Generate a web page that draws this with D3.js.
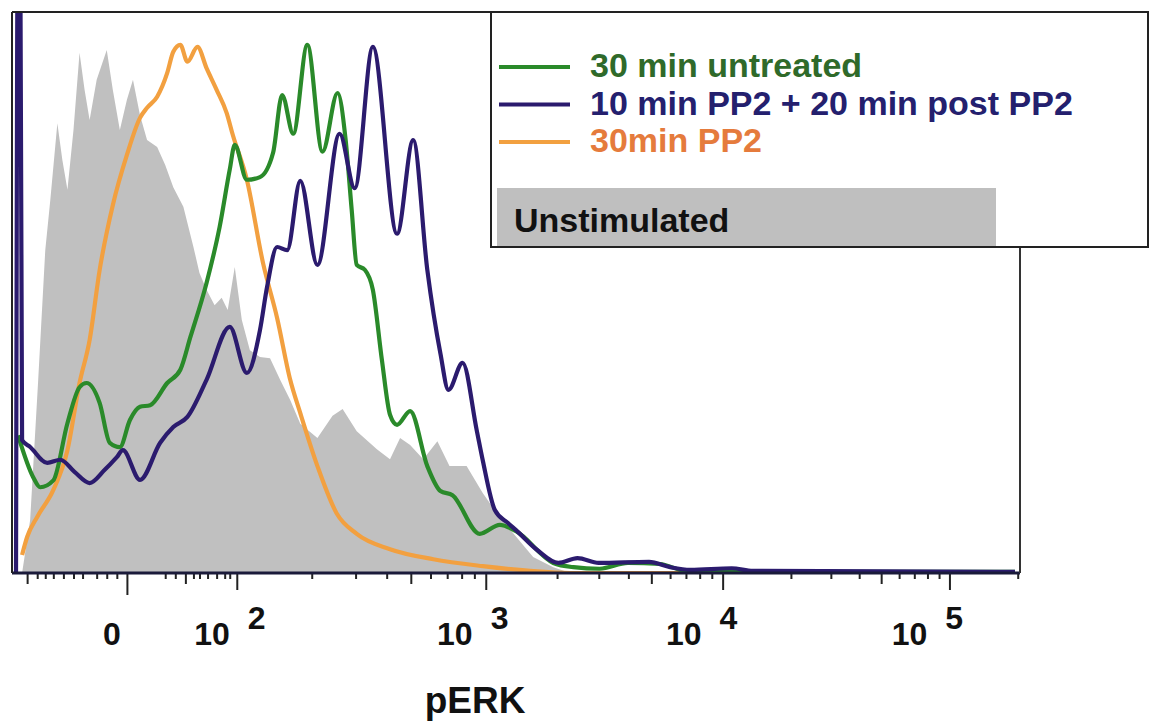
<!DOCTYPE html>
<html><head><meta charset="utf-8">
<script src="https://cdn.jsdelivr.net/npm/d3@7"></script>
<style>
body{margin:0;background:#fff}
svg{display:block}
text{font-family:"Liberation Sans",Arial,Helvetica,sans-serif;font-weight:bold}
</style>
</head><body>
<svg id="chart" width="1154" height="721"></svg>
<script>
// x in display channels (0-1000, biexponential display), y in % of max
const unstimulated = [[10,0],[18,10.0],[26,36.5],[33,61.0],[38,70.5],[45,85.0],[50,78.0],[55,72.4],[61,83.7],[67,98.3],[72,91.3],[77,85.6],[84,93.2],[94,98.8],[100,91.3],[107,83.7],[114,89.4],[120,93.2],[127,86.5],[134,81.8],[144,80.5],[152,77.1],[160,72.9],[170,69.2],[180,61.6],[186,56.7],[193,53.5],[201,50.6],[208,52.0],[214,49.7],[221,57.8],[228,47.8],[236,42.1],[246,40.8],[256,40.6],[266,36.5],[276,32.7],[286,28.2],[303,25.5],[318,29.7],[328,31.0],[342,26.8],[362,23.4],[375,21.5],[385,25.5],[395,24.2],[408,21.5],[422,24.9],[434,20.2],[451,20.2],[467,15.1],[481,11.3],[492,8.7],[517,3.0],[537,1.1],[554,0],[1000,0]];

const pp2_30min = [[10,3.4],[15,6.8],[25,10.6],[41,15.7],[55,23.2],[67,35.9],[77,44.0],[87,57.3],[100,69.5],[114,79.0],[127,86.0],[134,87.9],[144,90.0],[154,94.5],[160,98.5],[167,99.8],[174,96.6],[184,99.4],[193,95.4],[203,91.3],[213,86.9],[219,82.8],[233,74.3],[249,58.6],[263,48.2],[276,36.5],[286,30.2],[303,20.2],[322,11.3],[342,7.4],[375,4.5],[418,2.6],[467,1.3],[514,0.4],[554,0],[995,0]];

const untreated_30min = [[6,26],[21,18.1],[28,16.2],[41,17.5],[55,28.3],[67,35.1],[74,35.9],[87,32.1],[97,24.6],[107,23.8],[117,28.9],[127,31.4],[137,31.7],[154,35.9],[167,38.4],[177,44.6],[193,54.8],[206,65.4],[216,76.2],[221,80.9],[233,74.3],[246,74.8],[259,79.4],[268,90.3],[279,83.0],[293,99.8],[308,79.6],[323,90.7],[331,81.8],[337,68.6],[342,58.2],[350,57.3],[358,53.5],[367,40.2],[375,29.9],[382,28.0],[395,30.6],[412,20.2],[425,15.5],[437,14.7],[464,7.4],[484,9.1],[500,7.9],[537,1.9],[557,1.1],[583,0.8],[611,1.9],[643,1.7],[663,0.6],[682,0.2],[995,0.2]];

const pp2_10_post20 = [[4,0],[6,130],[8,130],[10,25.1],[18,23.8],[35,20.8],[48,21.4],[62,19.1],[77,17.0],[92,19.5],[104,21.9],[110,23.2],[127,17.6],[147,24.6],[160,27.6],[174,29.5],[193,36.5],[216,46.5],[233,37.8],[246,45.9],[253,54.0],[263,61.6],[273,61.0],[286,74.1],[303,58.2],[325,83.0],[340,72.7],[358,99.4],[382,64.1],[398,81.8],[412,57.3],[425,41.5],[433,34.6],[447,39.7],[461,27.0],[467,21.3],[479,11.9],[492,9.45],[500,8.1],[521,4.35],[542,1.9],[561,2.8],[582,1.9],[632,2.1],[653,1.1],[673,0.6],[714,0.9],[735,0.4],[995,0.2]];

const legendLabels = ["30 min untreated", "10 min PP2 + 20 min post PP2", "30min PP2"];
const fillLabel = "Unstimulated";
const axisTitle = "pERK";

// axis: major tick channels and labels
const majorTickCh = [114, 223, 470, 705, 930];
const decadeExps = [null, "2", "3", "4", "5"];
const labelCh = [99, 216, 457, 684, 908];      // right edge of "10" / centre of "0"
const lowMinorCh = [25, 33, 41, 51, 61, 70, 84, 94, 104, 152, 162, 180, 186, 194, 203, 211, 216];
const midMinorCh = [15, 172];

// ---------- drawing ----------
const svg = d3.select("#chart");
const L = 12, R = 1020, T = 12, B = 573;
const x = d3.scaleLinear().domain([0, 1000]).range([L, R]);
const y = d3.scaleLinear().domain([0, 106]).range([B, T]);

const colors = {green:"#2a8a2a", navy:"#2b1b6e", orange:"#f2a040", gray:"#c0c0c0"};

svg.append("clipPath").attr("id","clip").append("rect")
  .attr("x", L).attr("y", T).attr("width", R-L).attr("height", B-T);

const plot = svg.append("g").attr("clip-path","url(#clip)");

plot.append("path").datum(unstimulated)
  .attr("fill", colors.gray)
  .attr("d", d3.area().x(d=>x(d[0])).y0(y(0)).y1(d=>y(d[1])).curve(d3.curveLinear));

const line = d3.line().x(d=>x(d[0])).y(d=>y(d[1])).curve(d3.curveMonotoneX);
[[pp2_30min, colors.orange],[untreated_30min, colors.green],[pp2_10_post20, colors.navy]].forEach(([data,c])=>{
  plot.append("path").datum(data).attr("fill","none").attr("stroke",c)
    .attr("stroke-width",4.2).attr("stroke-linejoin","round").attr("d", line);
});

// log minor ticks within decades
const decadeWidth = [247, 235, 225, 225];
const logMinor = [], fiveMinor = [];
[223, 470, 705, 930].forEach((m,i)=>{
  for (let k=2;k<=9;k++){
    const p = m + decadeWidth[i]*Math.log10(k);
    if (p < 998) (k===5 ? fiveMinor : logMinor).push(p);
  }
});

function tickAxis(vals, size){
  const g = svg.append("g").attr("transform",`translate(0,${B})`)
    .call(d3.axisBottom(x).tickValues(vals).tickSize(size).tickFormat(""));
  g.select(".domain").remove();
  g.selectAll(".tick line").attr("stroke","#222").attr("stroke-width",2);
  return g;
}
tickAxis(lowMinorCh.concat(logMinor), 6);
tickAxis(midMinorCh.concat(fiveMinor), 11);
tickAxis(majorTickCh.slice(1), 17);
tickAxis([majorTickCh[0]], 22);

// frame
svg.append("line").attr("x1",L).attr("x2",R).attr("y1",B).attr("y2",B)
  .attr("stroke","#1a1a3a").attr("stroke-width",3);
svg.append("line").attr("x1",L).attr("x2",L).attr("y1",T).attr("y2",B)
  .attr("stroke","#222").attr("stroke-width",2);
svg.append("line").attr("x1",R).attr("x2",R).attr("y1",T).attr("y2",B)
  .attr("stroke","#333").attr("stroke-width",2);
svg.append("line").attr("x1",L).attr("x2",R).attr("y1",T).attr("y2",T)
  .attr("stroke","#222").attr("stroke-width",2);

// tick labels
const lab = svg.append("g");
decadeExps.forEach((e,i)=>{
  if (e === null){
    lab.append("text").attr("x", x(labelCh[i])).attr("y", 645)
      .attr("text-anchor","middle").attr("font-size",32).attr("fill","#111").text("0");
  } else {
    lab.append("text").attr("x", x(labelCh[i])).attr("y", 645)
      .attr("text-anchor","end").attr("font-size",32).attr("fill","#111").text("10");
    lab.append("text").attr("x", x(labelCh[i]) + 18).attr("y", 629)
      .attr("text-anchor","start").attr("font-size",32).attr("fill","#111").text(e);
  }
});
svg.append("text").attr("x", 475).attr("y", 713).attr("text-anchor","middle")
  .attr("font-size",37).attr("fill","#111").text(axisTitle);

// legend
const lg = svg.append("g");
lg.append("rect").attr("x",491).attr("y",12).attr("width",657).attr("height",235)
  .attr("fill","#fff").attr("stroke","#222").attr("stroke-width",2);
const legColors = [colors.green, colors.navy, colors.orange];
const legText = ["#2f6a2a", "#24206e", "#e57b3c"];
legendLabels.forEach((t,i)=>{
  const yy = 67 + i*37.5;
  lg.append("line").attr("x1",499).attr("x2",570).attr("y1",yy).attr("y2",yy)
    .attr("stroke",legColors[i]).attr("stroke-width",4);
  lg.append("text").attr("x",590).attr("y",yy+10).attr("font-size",34)
    .attr("fill",legText[i]).text(t);
});
lg.append("rect").attr("x",497).attr("y",188).attr("width",499).attr("height",58).attr("fill","#bfbfbf");
lg.append("text").attr("x",514).attr("y",232).attr("font-size",34).attr("fill","#111").text(fillLabel);
</script>
</body></html>
